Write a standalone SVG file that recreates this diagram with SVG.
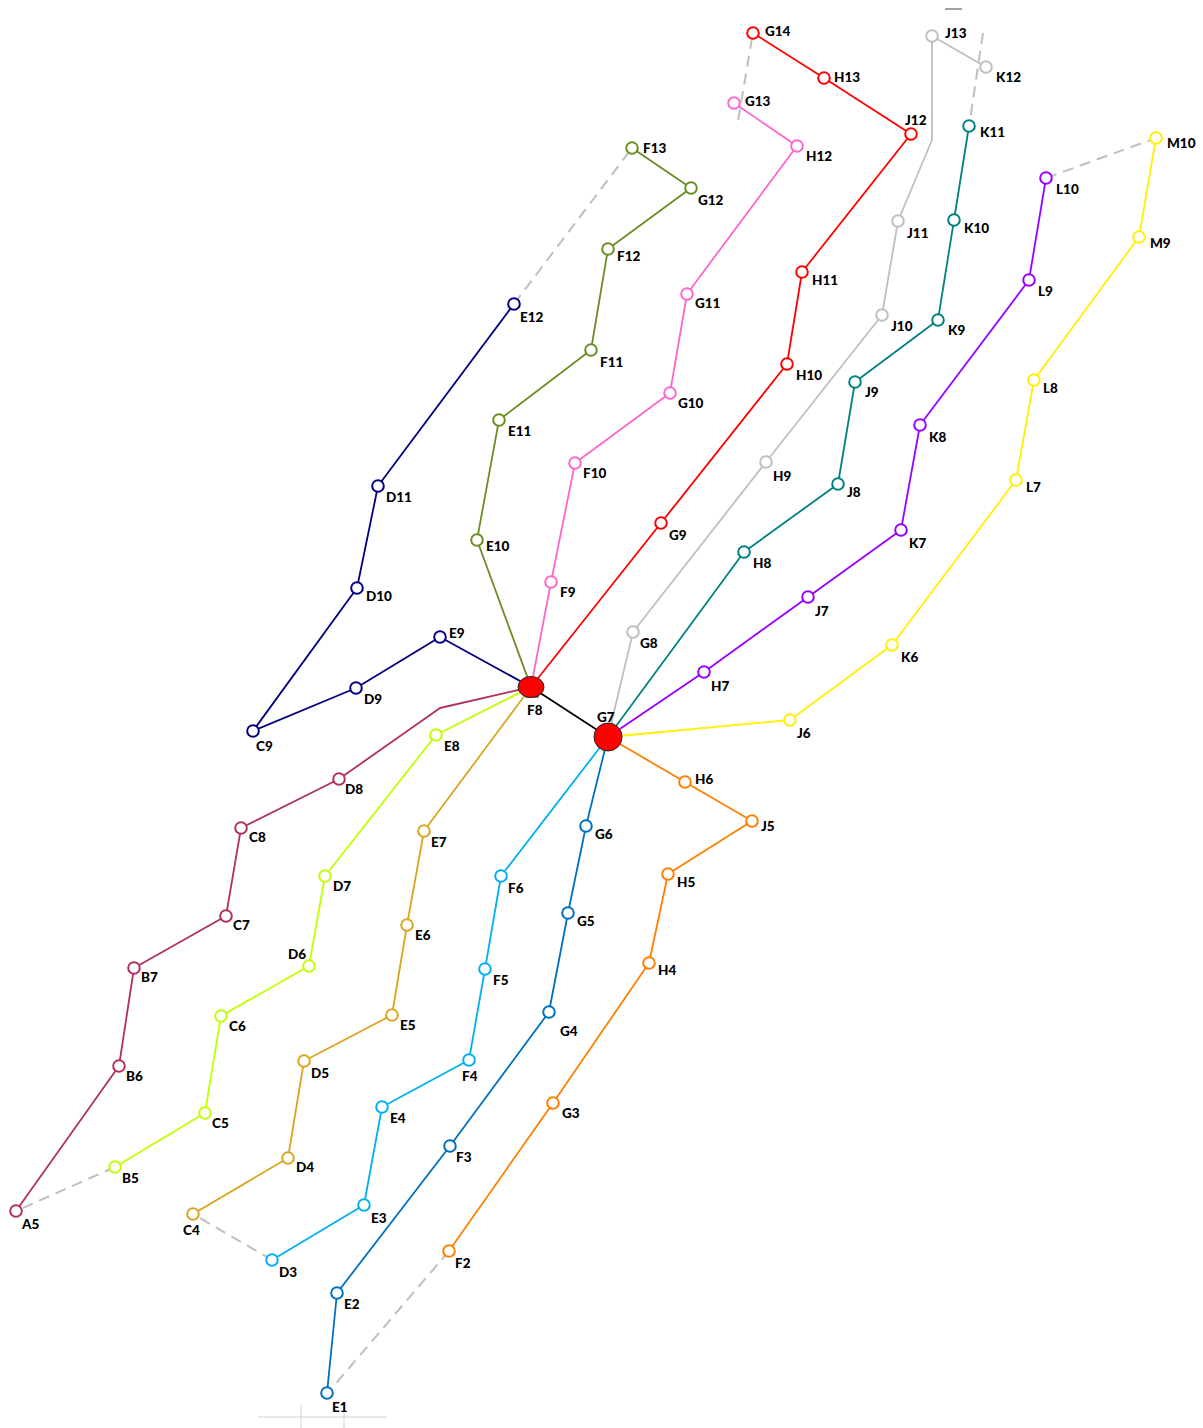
<svg xmlns="http://www.w3.org/2000/svg" width="1203" height="1428" viewBox="0 0 1203 1428">
<style>
.l{fill:none;stroke-width:1.8;stroke-linejoin:round}
.d{fill:none;stroke:#BFBFBF;stroke-width:2;stroke-dasharray:11 7}
.n{fill:#fff;stroke-width:2}
text{font-family:Lato,"Open Sans","Liberation Sans",sans-serif;font-weight:900;font-size:13.5px;fill:#000}
.navy{stroke:#000080}.olive{stroke:#6B8E23}.pink{stroke:#FF66CC}.red{stroke:#FF0000}.gray{stroke:#BFBFBF}.teal{stroke:#008080}.purple{stroke:#9900FF}.yellow{stroke:#FFF000}.orange{stroke:#FF7F00}.blue{stroke:#0070C0}.cyan{stroke:#00B0F0}.gold{stroke:#DAA520}.lime{stroke:#BFFF00}.maroon{stroke:#B03060}
</style>
<g id="background">
<line x1="945" y1="9" x2="962" y2="9" stroke="#444" stroke-width="1"/>
<g stroke="#D0D0D0" stroke-width="1">
<line x1="258" y1="1417" x2="387" y2="1417"/>
<line x1="301" y1="1405" x2="301" y2="1428"/>
<line x1="344" y1="1405" x2="344" y2="1428"/>
</g>
</g>
<g id="connectors">
<path class="d" d="M514 304L632 148"/>
<path class="d" d="M752 38L737 127"/>
<path class="d" d="M983 33L970 120"/>
<path class="d" d="M1046 178L1156 138"/>
<path class="d" d="M449 1251L332 1388"/>
<path class="d" d="M272 1260L193 1214"/>
<path class="d" d="M115 1167L16 1211"/>
<path class="l navy" d="M514 304L378 486L357 588L253 731L356 688L440 637L531 687"/>
<path class="l olive" d="M632 148L691 188L608 249L591 350L499 420L477 540L531 687"/>
<path class="l pink" d="M734 103L797 146L687 294L670 393L575 463L551 582L531 687"/>
<path class="l red" d="M753 33L824 78L911 134L802 272L787 364L661 523L531 687"/>
<path class="l gray" d="M986 67L932 36L932 140L898 221L882 315L766 462L633 632L608 737"/>
<path class="l teal" d="M969 126L954 220L938 320L855 382L838 484L744 552L608 737"/>
<path class="l purple" d="M1046 178L1029 280L920 425L901 530L808 597L704 672L608 737"/>
<path class="l yellow" d="M1156 138L1139 237L1034 380L1016 480L892 645L790 720L608 737"/>
<path class="l orange" d="M608 737L685 782L752 821L668 874L649 963L553 1103L449 1251"/>
<path class="l blue" d="M608 737L586 826L568 913L549 1012L450 1146L337 1293L327 1393"/>
<path class="l cyan" d="M608 737L501 876L485 969L469 1060L382 1107L364 1205L272 1260"/>
<path class="l gold" d="M531 687L424 831L407 925L392 1015L304 1061L288 1158L193 1214"/>
<path class="l lime" d="M531 687L436 735L325 876L309 966L221 1016L205 1113L115 1167"/>
<path class="l maroon" d="M531 687L440 708L339 779L241 828L226 916L134 968L119 1066L16 1211"/>
<path class="l" stroke="#000" stroke-width="2" d="M531 687L608 737"/>
</g>
<g id="nodes">
<g id="E12"><circle class="n navy" cx="514" cy="304" r="5.8"/><text x="520" y="322">E12</text></g>
<g id="D11"><circle class="n navy" cx="378" cy="486" r="5.8"/><text x="386" y="502">D11</text></g>
<g id="D10"><circle class="n navy" cx="357" cy="588" r="5.8"/><text x="366" y="601">D10</text></g>
<g id="C9"><circle class="n navy" cx="253" cy="731" r="5.8"/><text x="256" y="751">C9</text></g>
<g id="D9"><circle class="n navy" cx="356" cy="688" r="5.8"/><text x="364" y="704">D9</text></g>
<g id="E9"><circle class="n navy" cx="440" cy="637" r="5.8"/><text x="449" y="638">E9</text></g>
<g id="F13"><circle class="n olive" cx="632" cy="148" r="5.8"/><text x="643" y="153">F13</text></g>
<g id="G12"><circle class="n olive" cx="691" cy="188" r="5.8"/><text x="698" y="205">G12</text></g>
<g id="F12"><circle class="n olive" cx="608" cy="249" r="5.8"/><text x="617" y="261">F12</text></g>
<g id="F11"><circle class="n olive" cx="591" cy="350" r="5.8"/><text x="600" y="367">F11</text></g>
<g id="E11"><circle class="n olive" cx="499" cy="420" r="5.8"/><text x="508" y="436">E11</text></g>
<g id="E10"><circle class="n olive" cx="477" cy="540" r="5.8"/><text x="486" y="551">E10</text></g>
<g id="G13"><circle class="n pink" cx="734" cy="103" r="5.8"/><text x="745" y="106">G13</text></g>
<g id="H12"><circle class="n pink" cx="797" cy="146" r="5.8"/><text x="806" y="161">H12</text></g>
<g id="G11"><circle class="n pink" cx="687" cy="294" r="5.8"/><text x="695" y="308">G11</text></g>
<g id="G10"><circle class="n pink" cx="670" cy="393" r="5.8"/><text x="678" y="408">G10</text></g>
<g id="F10"><circle class="n pink" cx="575" cy="463" r="5.8"/><text x="583" y="478">F10</text></g>
<g id="F9"><circle class="n pink" cx="551" cy="582" r="5.8"/><text x="560" y="597">F9</text></g>
<g id="G14"><circle class="n red" cx="753" cy="33" r="5.8"/><text x="765" y="36">G14</text></g>
<g id="H13"><circle class="n red" cx="824" cy="78" r="5.8"/><text x="834" y="82">H13</text></g>
<g id="J12"><circle class="n red" cx="911" cy="134" r="5.8"/><text x="905" y="125">J12</text></g>
<g id="H11"><circle class="n red" cx="802" cy="272" r="5.8"/><text x="812" y="285">H11</text></g>
<g id="H10"><circle class="n red" cx="787" cy="364" r="5.8"/><text x="796" y="380">H10</text></g>
<g id="G9"><circle class="n red" cx="661" cy="523" r="5.8"/><text x="669" y="540">G9</text></g>
<g id="J13"><circle class="n gray" cx="932" cy="36" r="5.8"/><text x="945" y="38">J13</text></g>
<g id="K12"><circle class="n gray" cx="986" cy="67" r="5.8"/><text x="996" y="82">K12</text></g>
<g id="J11"><circle class="n gray" cx="898" cy="221" r="5.8"/><text x="907" y="238">J11</text></g>
<g id="J10"><circle class="n gray" cx="882" cy="315" r="5.8"/><text x="891" y="331">J10</text></g>
<g id="H9"><circle class="n gray" cx="766" cy="462" r="5.8"/><text x="773" y="481">H9</text></g>
<g id="G8"><circle class="n gray" cx="633" cy="632" r="5.8"/><text x="640" y="648">G8</text></g>
<g id="K11"><circle class="n teal" cx="969" cy="126" r="5.8"/><text x="980" y="137">K11</text></g>
<g id="K10"><circle class="n teal" cx="954" cy="220" r="5.8"/><text x="964" y="233">K10</text></g>
<g id="K9"><circle class="n teal" cx="938" cy="320" r="5.8"/><text x="948" y="335">K9</text></g>
<g id="J9"><circle class="n teal" cx="855" cy="382" r="5.8"/><text x="865" y="397">J9</text></g>
<g id="J8"><circle class="n teal" cx="838" cy="484" r="5.8"/><text x="847" y="497">J8</text></g>
<g id="H8"><circle class="n teal" cx="744" cy="552" r="5.8"/><text x="753" y="568">H8</text></g>
<g id="L10"><circle class="n purple" cx="1046" cy="178" r="5.8"/><text x="1056" y="194">L10</text></g>
<g id="L9"><circle class="n purple" cx="1029" cy="280" r="5.8"/><text x="1038" y="296">L9</text></g>
<g id="K8"><circle class="n purple" cx="920" cy="425" r="5.8"/><text x="929" y="442">K8</text></g>
<g id="K7"><circle class="n purple" cx="901" cy="530" r="5.8"/><text x="909" y="548">K7</text></g>
<g id="J7"><circle class="n purple" cx="808" cy="597" r="5.8"/><text x="815" y="616">J7</text></g>
<g id="H7"><circle class="n purple" cx="704" cy="672" r="5.8"/><text x="711" y="691">H7</text></g>
<g id="M10"><circle class="n yellow" cx="1156" cy="138" r="5.8"/><text x="1167" y="148">M10</text></g>
<g id="M9"><circle class="n yellow" cx="1139" cy="237" r="5.8"/><text x="1150" y="248">M9</text></g>
<g id="L8"><circle class="n yellow" cx="1034" cy="380" r="5.8"/><text x="1043" y="393">L8</text></g>
<g id="L7"><circle class="n yellow" cx="1016" cy="480" r="5.8"/><text x="1026" y="492">L7</text></g>
<g id="K6"><circle class="n yellow" cx="892" cy="645" r="5.8"/><text x="901" y="662">K6</text></g>
<g id="J6"><circle class="n yellow" cx="790" cy="720" r="5.8"/><text x="797" y="738">J6</text></g>
<g id="H6"><circle class="n orange" cx="685" cy="782" r="5.8"/><text x="695" y="784">H6</text></g>
<g id="J5"><circle class="n orange" cx="752" cy="821" r="5.8"/><text x="761" y="831">J5</text></g>
<g id="H5"><circle class="n orange" cx="668" cy="874" r="5.8"/><text x="677" y="887">H5</text></g>
<g id="H4"><circle class="n orange" cx="649" cy="963" r="5.8"/><text x="658" y="975">H4</text></g>
<g id="G3"><circle class="n orange" cx="553" cy="1103" r="5.8"/><text x="562" y="1118">G3</text></g>
<g id="F2"><circle class="n orange" cx="449" cy="1251" r="5.8"/><text x="455" y="1268">F2</text></g>
<g id="G6"><circle class="n blue" cx="586" cy="826" r="5.8"/><text x="595" y="839">G6</text></g>
<g id="G5"><circle class="n blue" cx="568" cy="913" r="5.8"/><text x="577" y="926">G5</text></g>
<g id="G4"><circle class="n blue" cx="549" cy="1012" r="5.8"/><text x="560" y="1036">G4</text></g>
<g id="F3"><circle class="n blue" cx="450" cy="1146" r="5.8"/><text x="456" y="1162">F3</text></g>
<g id="E2"><circle class="n blue" cx="337" cy="1293" r="5.8"/><text x="344" y="1309">E2</text></g>
<g id="E1"><circle class="n blue" cx="327" cy="1393" r="5.8"/><text x="332" y="1412">E1</text></g>
<g id="F6"><circle class="n cyan" cx="501" cy="876" r="5.8"/><text x="508" y="893">F6</text></g>
<g id="F5"><circle class="n cyan" cx="485" cy="969" r="5.8"/><text x="493" y="985">F5</text></g>
<g id="F4"><circle class="n cyan" cx="469" cy="1060" r="5.8"/><text x="462" y="1081">F4</text></g>
<g id="E4"><circle class="n cyan" cx="382" cy="1107" r="5.8"/><text x="390" y="1123">E4</text></g>
<g id="E3"><circle class="n cyan" cx="364" cy="1205" r="5.8"/><text x="371" y="1223">E3</text></g>
<g id="D3"><circle class="n cyan" cx="272" cy="1260" r="5.8"/><text x="279" y="1277">D3</text></g>
<g id="E7"><circle class="n gold" cx="424" cy="831" r="5.8"/><text x="431" y="847">E7</text></g>
<g id="E6"><circle class="n gold" cx="407" cy="925" r="5.8"/><text x="415" y="940">E6</text></g>
<g id="E5"><circle class="n gold" cx="392" cy="1015" r="5.8"/><text x="400" y="1030">E5</text></g>
<g id="D5"><circle class="n gold" cx="304" cy="1061" r="5.8"/><text x="311" y="1078">D5</text></g>
<g id="D4"><circle class="n gold" cx="288" cy="1158" r="5.8"/><text x="296" y="1172">D4</text></g>
<g id="C4"><circle class="n gold" cx="193" cy="1214" r="5.8"/><text x="183" y="1235">C4</text></g>
<g id="E8"><circle class="n lime" cx="436" cy="735" r="5.8"/><text x="444" y="751">E8</text></g>
<g id="D7"><circle class="n lime" cx="325" cy="876" r="5.8"/><text x="333" y="891">D7</text></g>
<g id="D6"><circle class="n lime" cx="309" cy="966" r="5.8"/><text x="288" y="959">D6</text></g>
<g id="C6"><circle class="n lime" cx="221" cy="1016" r="5.8"/><text x="229" y="1031">C6</text></g>
<g id="C5"><circle class="n lime" cx="205" cy="1113" r="5.8"/><text x="212" y="1128">C5</text></g>
<g id="B5"><circle class="n lime" cx="115" cy="1167" r="5.8"/><text x="122" y="1183">B5</text></g>
<g id="D8"><circle class="n maroon" cx="339" cy="779" r="5.8"/><text x="345" y="794">D8</text></g>
<g id="C8"><circle class="n maroon" cx="241" cy="828" r="5.8"/><text x="249" y="842">C8</text></g>
<g id="C7"><circle class="n maroon" cx="226" cy="916" r="5.8"/><text x="233" y="930">C7</text></g>
<g id="B7"><circle class="n maroon" cx="134" cy="968" r="5.8"/><text x="141" y="982">B7</text></g>
<g id="B6"><circle class="n maroon" cx="119" cy="1066" r="5.8"/><text x="126" y="1081">B6</text></g>
<g id="A5"><circle class="n maroon" cx="16" cy="1211" r="5.8"/><text x="22" y="1229">A5</text></g>
<g id="F8"><rect x="526" y="689" width="12" height="8" fill="#fff" stroke="#000" stroke-width="1"/><ellipse cx="531" cy="687" rx="13" ry="10.5" fill="#FF0000" stroke="#222" stroke-width="1"/><text x="527" y="715">F8</text></g>
<g id="G7"><circle cx="608" cy="737" r="14" fill="#FF0000" stroke="#222" stroke-width="1"/><text x="597" y="722">G7</text></g>
</g>
</svg>
